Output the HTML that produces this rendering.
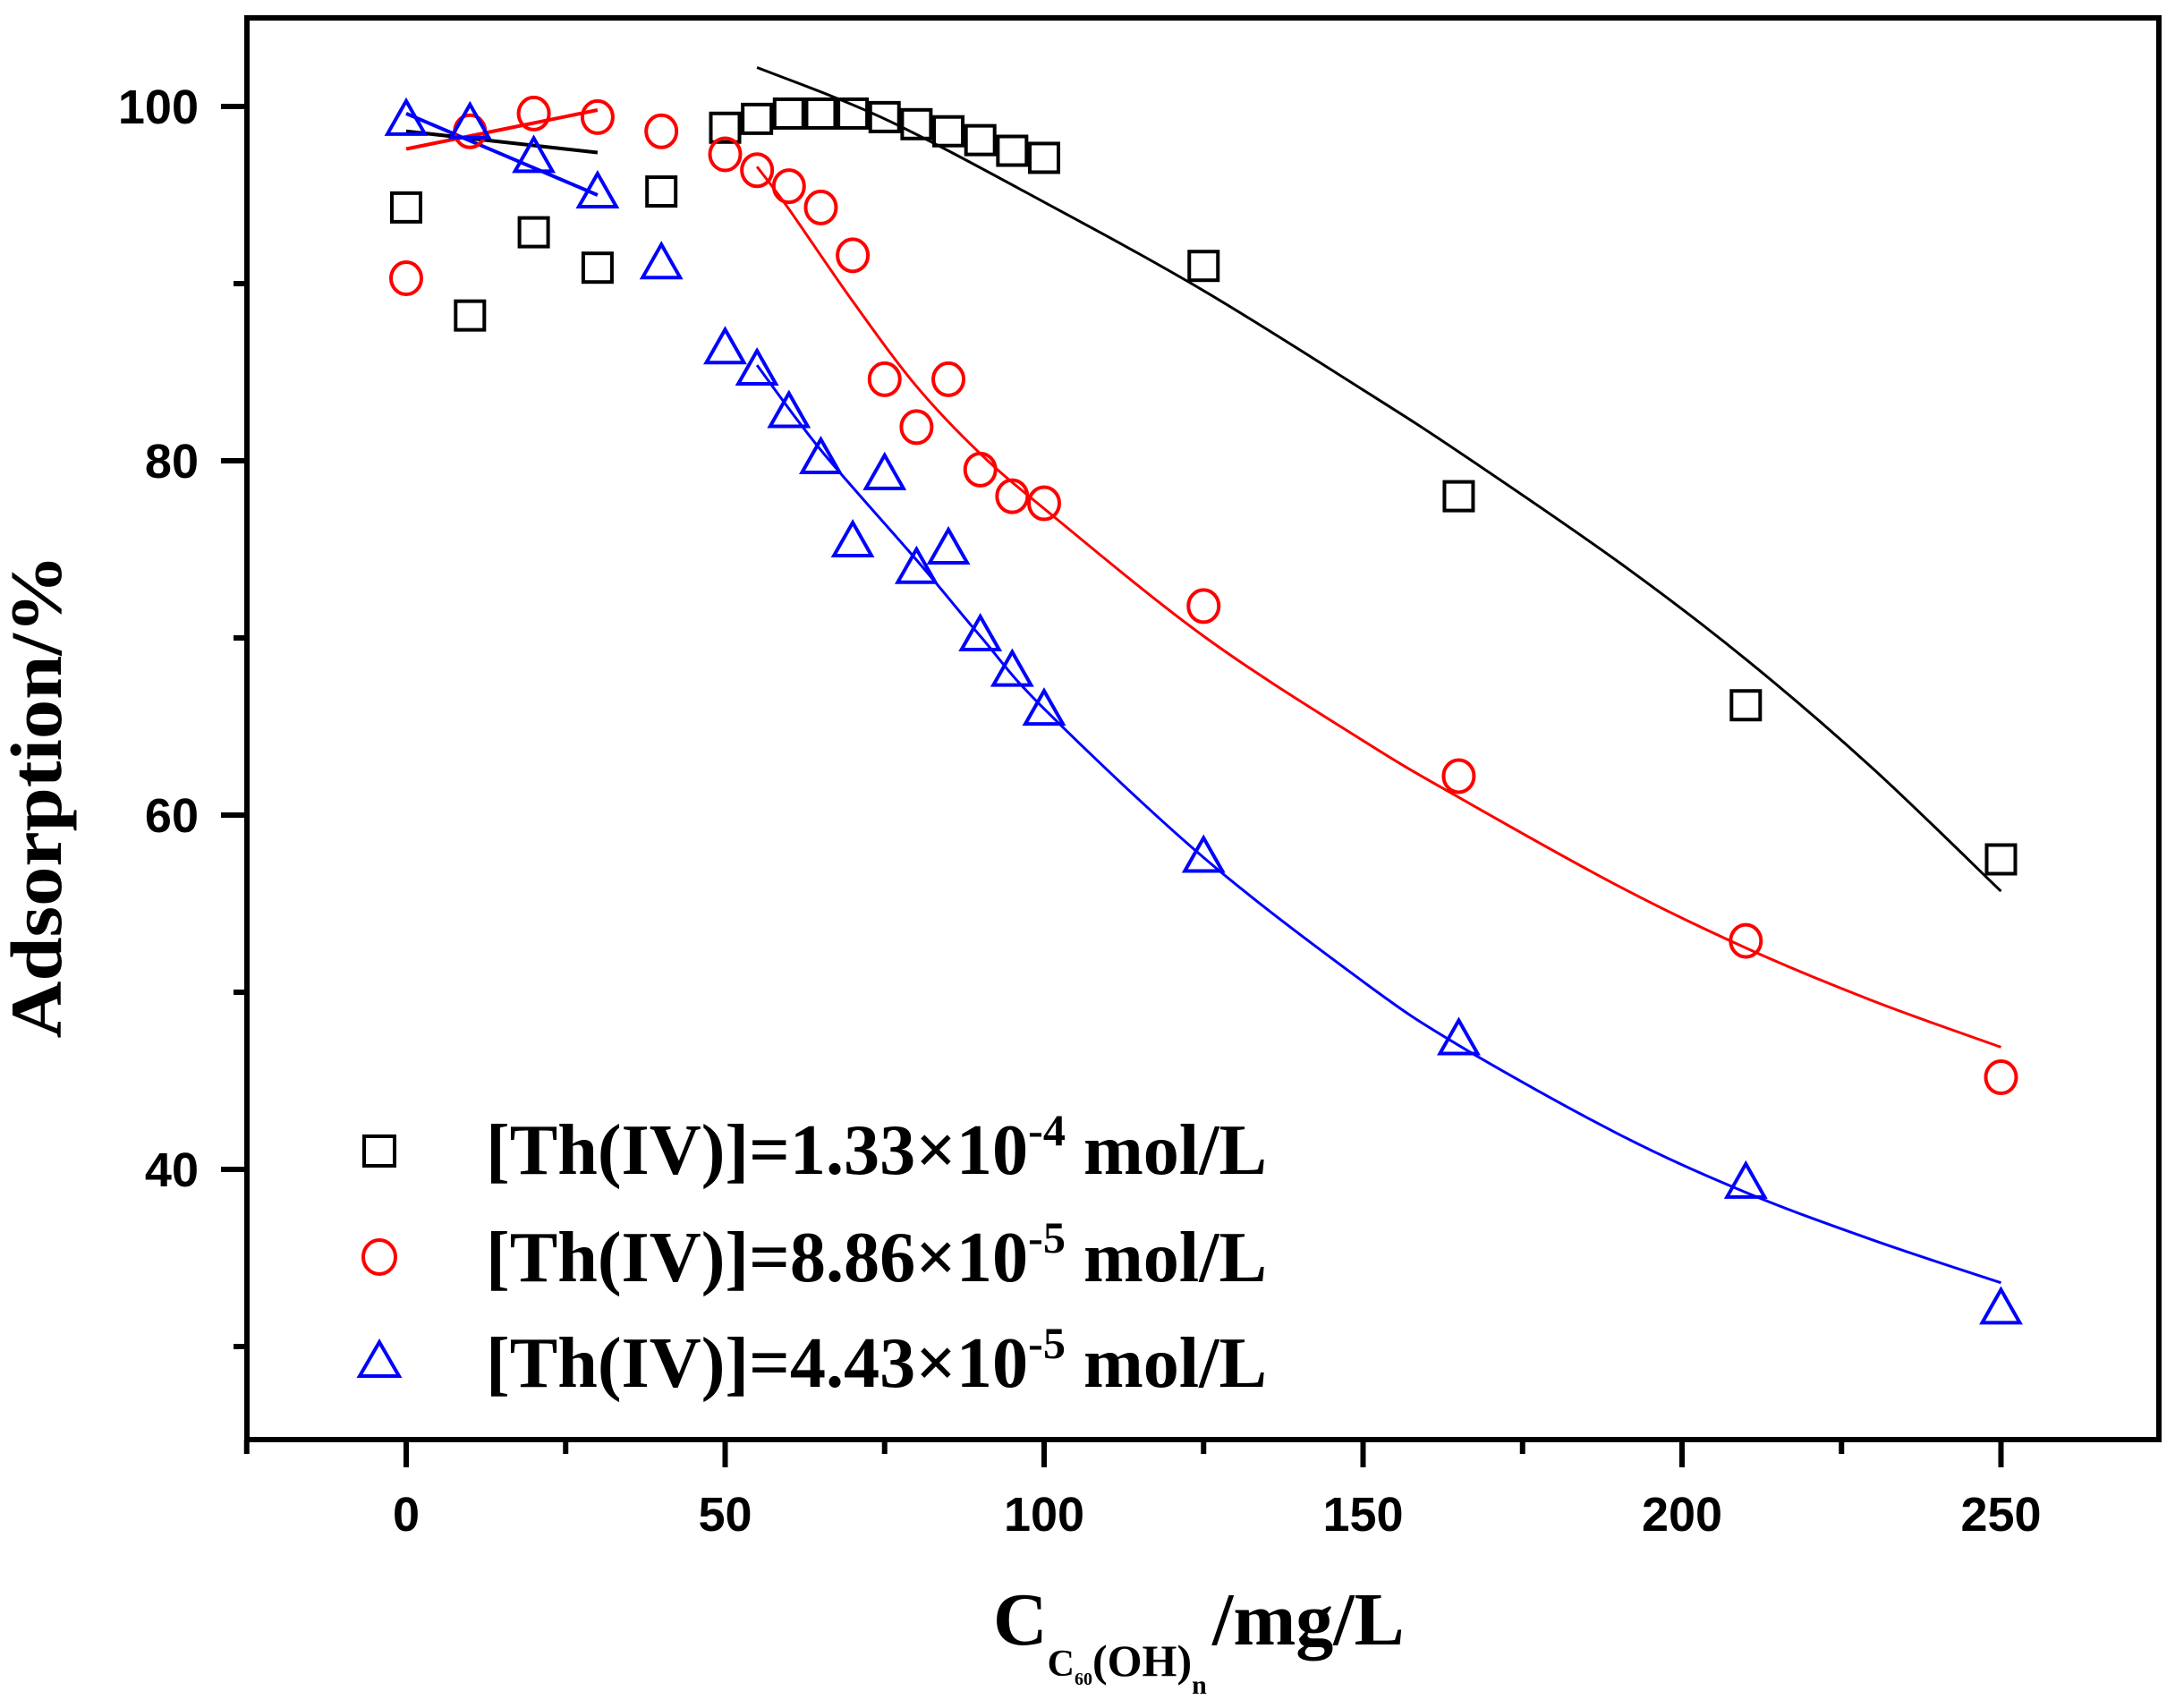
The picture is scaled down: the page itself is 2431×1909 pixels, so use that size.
<!DOCTYPE html>
<html><head><meta charset="utf-8"><style>
html,body{margin:0;padding:0;background:#fff;}
svg{display:block;}
</style></head><body>
<svg id="chart" width="2431" height="1909" viewBox="0 0 2431 1909" xmlns="http://www.w3.org/2000/svg">
<g id="marks"></g>
<g id="axes"></g>
<g id="legend">
  <rect x="407" y="1270" width="34" height="33" fill="none" stroke="#000" stroke-width="4"/>
  <text x="543" y="1312" textLength="873" lengthAdjust="spacingAndGlyphs" font-family="Liberation Serif, serif" font-weight="bold" font-size="80">[Th(IV)]=1.33×10<tspan dy="-32" font-size="50">-4</tspan><tspan dy="32"> mol/L</tspan></text>
  <ellipse cx="424" cy="1405" rx="18" ry="19" fill="none" stroke="#f00" stroke-width="4"/>
  <text x="543" y="1432" textLength="873" lengthAdjust="spacingAndGlyphs" font-family="Liberation Serif, serif" font-weight="bold" font-size="80">[Th(IV)]=8.86×10<tspan dy="-32" font-size="50">-5</tspan><tspan dy="32"> mol/L</tspan></text>
  <polygon points="424,1500 402,1538 446,1538" fill="none" stroke="#00f" stroke-width="4"/>
  <text x="543" y="1550" textLength="873" lengthAdjust="spacingAndGlyphs" font-family="Liberation Serif, serif" font-weight="bold" font-size="80">[Th(IV)]=4.43×10<tspan dy="-32" font-size="50">-5</tspan><tspan dy="32"> mol/L</tspan></text>
</g>
<text transform="translate(68,890) rotate(-90)" text-anchor="middle" textLength="541" lengthAdjust="spacingAndGlyphs" font-family="Liberation Serif, serif" font-weight="bold" font-size="82">Adsorption/%</text>
<text x="1110" y="1838" font-family="Liberation Serif, serif" font-weight="bold" font-size="84">C<tspan dy="35" font-size="42">C</tspan><tspan dy="10" font-size="20">60</tspan><tspan dy="-10" font-size="50">(OH)</tspan><tspan dy="20" font-size="30">n</tspan><tspan x="1355" y="1838">/mg/L</tspan></text>
</svg>
<script>
const xSquares=[0,10,20,30,40,50,55,60,65,70,75,80,85,90,95,100,125,165,210,250];
const ySquares=[94.3,88.2,92.9,90.9,95.2,98.8,99.3,99.6,99.6,99.6,99.4,99.0,98.6,98.1,97.5,97.1,91.0,78.0,66.2,57.5];
const xCircles=[0,10,20,30,40,50,55,60,65,70,75,80,85,90,95,100,125,165,210,250];
const yCircles=[90.3,98.6,99.6,99.4,98.6,97.3,96.4,95.5,94.3,91.6,84.6,81.9,84.6,79.5,78.0,77.6,71.8,62.2,52.9,45.2];
const xTriangles=[0,10,20,30,40,50,55,60,65,70,75,80,85,90,95,100,125,165,210,250];
const yTriangles=[99.1,98.9,97.0,95.0,91.0,86.2,85.0,82.6,80.0,75.3,79.1,73.8,74.9,70.0,68.0,65.8,57.5,47.2,39.1,32.0];
const fitBlackShortX=[0,30], fitBlackShortY=[98.6,97.4];
const fitRedShortX=[0,30], fitRedShortY=[97.6,99.8];
const fitBlueShortX=[0,30], fitBlueShortY=[99.6,95.0];
const fitBlackX=[55,75,100,125,150,165,190,210,230,250];
const fitBlackY=[102.2,99.3,94.6,89.6,84.0,80.5,74.3,68.8,62.6,55.7];
const fitRedX=[55,60,70,80,90,100,125,150,165,190,210,230,250];
const fitRedY=[96.6,94.2,89.0,84.2,80.4,77.3,70.1,64.2,61.0,56.0,52.5,49.5,46.9];
const fitBlueX=[55,65,80,90,100,125,150,165,190,210,230,250];
const fitBlueY=[85.4,80.6,74.4,70.1,66.0,57.6,50.6,47.0,42.0,38.7,36.0,33.6];
const xTicks=[0,50,100,150,200,250];
const xMinor=[-25,25,75,125,175,225];
const yTicks=[40,60,80,100];
const yMinor=[30,50,70,90];

const NS='http://www.w3.org/2000/svg';
const X=v=>454+(v-0)*7.13;
const Y=v=>119+(100-v)*19.8;
const marks=document.getElementById('marks'), axes=document.getElementById('axes');
function mk(tag,attrs,parent){const e=document.createElementNS(NS,tag);for(const k in attrs)e.setAttribute(k,attrs[k]);parent.appendChild(e);return e;}
function line(xs,ys,color,w,name){
  const P=xs.map((x,i)=>[X(x),Y(ys[i])]);
  let d='M'+P[0][0].toFixed(1)+','+P[0][1].toFixed(1);
  for(let i=0;i<P.length-1;i++){
    const p0=P[Math.max(i-1,0)],p1=P[i],p2=P[i+1],p3=P[Math.min(i+2,P.length-1)];
    const c1=[p1[0]+(p2[0]-p0[0])/6,p1[1]+(p2[1]-p0[1])/6];
    const c2=[p2[0]-(p3[0]-p1[0])/6,p2[1]-(p3[1]-p1[1])/6];
    d+=' C'+c1[0].toFixed(1)+','+c1[1].toFixed(1)+' '+c2[0].toFixed(1)+','+c2[1].toFixed(1)+' '+p2[0].toFixed(1)+','+p2[1].toFixed(1);
  }
  const p=mk('path',{d:d,fill:'none',stroke:color,'stroke-width':w,'stroke-linejoin':'round'},marks);
  
  
}
line(fitBlackShortX,fitBlackShortY,'#000',4,'fit-line-black-short');
line(fitRedShortX,fitRedShortY,'#f00',4,'fit-line-red-short');
line(fitBlueShortX,fitBlueShortY,'#00f',4,'fit-line-blue-short');
line(fitBlackX,fitBlackY,'#000',3,'fit-curve-black');
line(fitRedX,fitRedY,'#f00',3,'fit-curve-red');
line(fitBlueX,fitBlueY,'#00f',3,'fit-curve-blue');
xSquares.forEach((x,i)=>{
  const r=mk('rect',{x:X(x)-16,y:Y(ySquares[i])-16,width:32,height:32,fill:'none',stroke:'#000','stroke-width':4},marks);
  
  
});
xCircles.forEach((x,i)=>{
  const c=mk('ellipse',{cx:X(x),cy:Y(yCircles[i]),rx:17,ry:18,fill:'none',stroke:'#f00','stroke-width':4},marks);
  
  
});
xTriangles.forEach((x,i)=>{
  const cx=X(x), cy=Y(yTriangles[i]);
  const t=mk('polygon',{points:cx+','+(cy-24)+' '+(cx-21)+','+(cy+13)+' '+(cx+21)+','+(cy+13),fill:'none',stroke:'#00f','stroke-width':4},marks);
  
  
});
const frame=mk('rect',{x:276,y:20,width:2137,height:1589,fill:'none',stroke:'#000','stroke-width':6},axes);


xTicks.forEach(v=>{
  const t=mk('line',{x1:X(v),y1:1609,x2:X(v),y2:1640,stroke:'#000','stroke-width':6},axes);
  
  
  const l=mk('text',{x:X(v),y:1711,'text-anchor':'middle','font-family':'Liberation Sans, sans-serif','font-weight':'bold','font-size':54},axes);
  l.textContent=v;
  
  
});
xMinor.forEach(v=>{
  const t=mk('line',{x1:X(v),y1:1609,x2:X(v),y2:1625,stroke:'#000','stroke-width':6},axes);
  
  
});
yTicks.forEach(v=>{
  const t=mk('line',{x1:247,y1:Y(v),x2:276,y2:Y(v),stroke:'#000','stroke-width':6},axes);
  
  
  const l=mk('text',{x:222,y:Y(v)+19,'text-anchor':'end','font-family':'Liberation Sans, sans-serif','font-weight':'bold','font-size':54},axes);
  l.textContent=v;
  
  
});
yMinor.forEach(v=>{
  const t=mk('line',{x1:261,y1:Y(v),x2:276,y2:Y(v),stroke:'#000','stroke-width':6},axes);
  
  
});
</script>
</body></html>
